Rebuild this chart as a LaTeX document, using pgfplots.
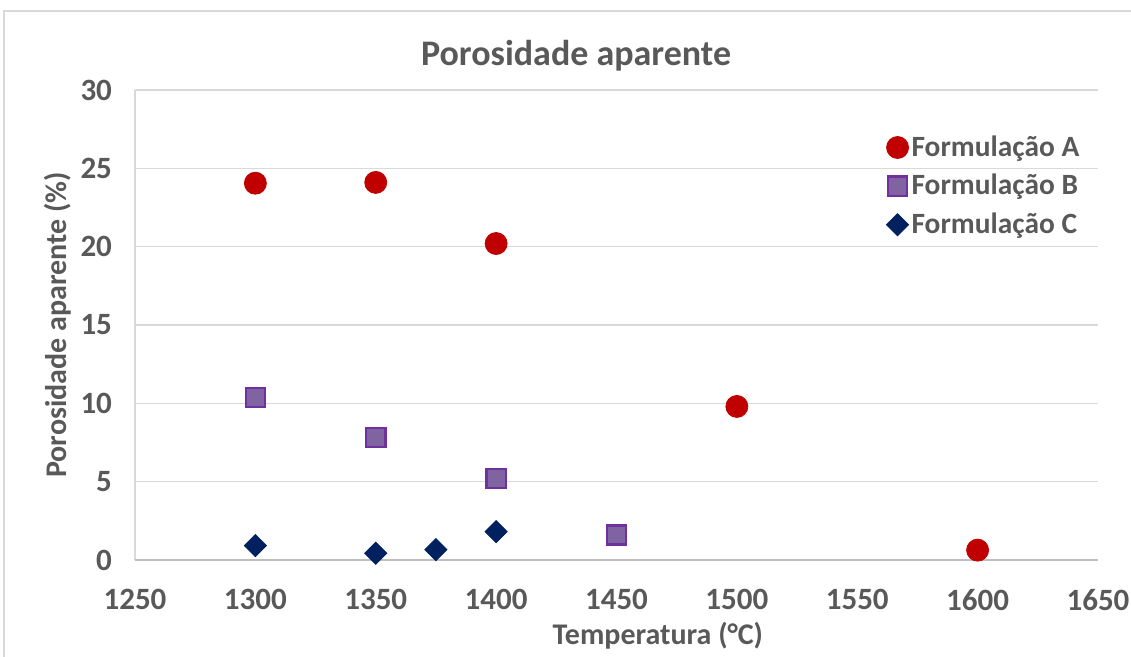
\documentclass[border=0pt]{standalone}
\usepackage{pgfplots}
\pgfplotsset{compat=1.18}
\usepackage{fontspec}
\setmainfont{Carlito}
\definecolor{txt}{HTML}{595959}
\definecolor{gridc}{HTML}{D9D9D9}
\definecolor{axc}{HTML}{BFBFBF}
\definecolor{cA}{HTML}{C00000}
\definecolor{cBf}{HTML}{8064A2}
\definecolor{cBd}{HTML}{7030A0}
\definecolor{cC}{HTML}{002060}
\begin{document}
\begin{tikzpicture}
\path[use as bounding box] (-67.5pt,-48.5pt) rectangle (498pt,280pt);
\draw[gridc, line width=1pt] (-65.5pt,-48.5pt) -- (-65.5pt,274.5pt) -- (498pt,274.5pt);
\begin{axis}[
  at={(0,0)}, anchor=south west,
  scale only axis, width=481.5pt, height=235pt,
  xmin=1250, xmax=1650, ymin=0, ymax=30,
  xtick={1250,1300,...,1650}, ytick={0,5,...,30},
  axis line style={draw=none},
  ymajorgrids, grid style={gridc, line width=0.8pt},
  tick style={draw=none},
  font=\bfseries, 
  tick label style={font=\fontsize{15.5}{17}\selectfont\bfseries, text=txt},
  /pgf/number format/assume math mode=true,
  /pgf/number format/set thousands separator={},
  xticklabel style={yshift=-11pt},
  yticklabel style={xshift=-8pt},
  xlabel={Temperatura (°C)},
  ylabel={Porosidade aparente (\%)},
  label style={font=\fontsize{15}{17}\selectfont\bfseries, text=txt},
  xlabel style={at={(rel axis cs:0.543,0)}, anchor=center, yshift=-38pt},
  ylabel style={at={(rel axis cs:0,0.5)}, anchor=center, rotate=0, yshift=38.5pt},
  title={Porosidade aparente},
  title style={font=\fontsize{18}{20}\selectfont\bfseries, text=txt, at={(rel axis cs:0.458,1)}, anchor=center, yshift=11pt},
  legend style={at={(rel axis cs:0.78,0.91)}, anchor=north west, draw=none, fill=none,
    font=\fontsize{14.7}{16}\selectfont\bfseries, text=txt, row sep=4.5pt,
    inner sep=0pt, nodes={inner sep=1.5pt}},
  legend cell align=left,
  legend image code/.code={\draw[#1] plot coordinates {(0.2cm,0cm)};},
  clip=false,
]
\addplot[only marks, mark=*, mark size=5.5pt, mark options={fill=cA, draw=cA}] coordinates {
(1300,24.05) (1350,24.1) (1400,20.2) (1500,9.8) (1600,0.63)};
\addlegendentry{Formulação A}
\addplot[only marks, mark=square*, mark size=4.8pt, mark options={fill=cBf, draw=cBd, line width=1.2pt}] coordinates {
(1300,10.38) (1350,7.83) (1400,5.19) (1450,1.6)};
\addlegendentry{Formulação B}
\addplot[only marks, mark=square*, mark size=3.9pt, mark options={fill=cC, draw=cC, rotate=45}] coordinates {
(1300,0.92) (1350,0.43) (1375,0.66) (1400,1.81)};
\addlegendentry{Formulação C}
\draw[gridc, line width=0.8pt] (rel axis cs:0,0) -- (rel axis cs:0,1);
\draw[axc, line width=0.8pt] (rel axis cs:0,0) -- (rel axis cs:1,0);
\end{axis}
\end{tikzpicture}
\end{document}
